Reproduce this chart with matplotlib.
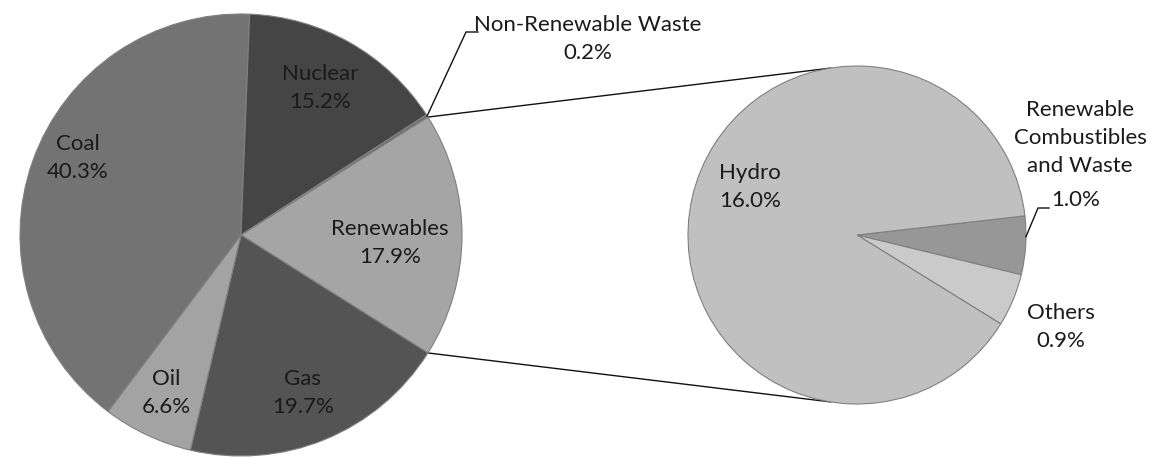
import numpy as np
import matplotlib
matplotlib.use("Agg")
import matplotlib.pyplot as plt

# Electricity generation by source (%), main pie, clockwise from the grouped slice
main_labels = ["Renewables", "Gas", "Oil", "Coal", "Nuclear", "Non-Renewable Waste"]
main_values = [17.9, 19.7, 6.6, 40.3, 15.2, 0.2]
main_colors = ["#a5a5a5", "#545454", "#a3a3a3", "#737373", "#454545", "#6e6e6e"]

# Breakdown of the renewables slice, clockwise
sub_labels = ["Renewable\nCombustibles\nand Waste", "Others", "Hydro"]
sub_values = [1.0, 0.9, 16.0]
sub_colors = ["#979797", "#cacaca", "#c0c0c0"]

W, H = 1151, 457
fig = plt.figure(figsize=(W / 100, H / 100), dpi=100)
ax = fig.add_axes([0, 0, 1, 1])

plt.rcParams["font.family"] = ["Lato", "DejaVu Sans"]
FS = 16
LS = 1.5
TXT = "#1a1a1a"
EDGE = "#808080"

c1, r1 = (241, 222), 221
c2, r2 = (857, 222), 169

total = sum(main_values)
start1 = 0.5 * main_values[0] / total * 360
w1, _ = ax.pie(main_values, colors=main_colors, startangle=start1, counterclock=False,
               center=c1, radius=r1, frame=True,
               wedgeprops=dict(edgecolor=EDGE, linewidth=0.8))
w2, _ = ax.pie(sub_values, colors=sub_colors, startangle=6.5, counterclock=False,
               center=c2, radius=r2, frame=True,
               wedgeprops=dict(edgecolor=EDGE, linewidth=0.8))
ax.set_xlim(0, W)
ax.set_ylim(0, H)
ax.set_aspect("equal")
ax.axis("off")


def pt(c, r, ang):
    a = np.deg2rad(ang)
    return c[0] + r * np.cos(a), c[1] + r * np.sin(a)


# Lines joining the grouped slice to the breakdown pie
ren = w1[0]
p_top = pt(c1, r1, ren.theta2)
p_bot = pt(c1, r1, ren.theta1)
q_top = pt(c2, r2, 99)
q_bot = pt(c2, r2, -99)
ax.plot([p_top[0], q_top[0]], [p_top[1], q_top[1]], color="#111111", lw=1.0, zorder=0)
ax.plot([p_bot[0], q_bot[0]], [p_bot[1], q_bot[1]], color="#111111", lw=1.0, zorder=0)

# Main pie labels
main_pos = {
    "Renewables": (390, 214),
    "Gas": (303, 64),
    "Oil": (166, 64),
    "Coal": (78, 299),
    "Nuclear": (320, 369),
}
for name, val in zip(main_labels, main_values):
    if name in main_pos:
        x, y = main_pos[name]
        ax.text(x, y, f"{name}\n{val:.1f}%", ha="center", va="center",
                fontsize=FS, color=TXT, linespacing=LS)

# Leader-line label for the thin slice
nrw = w1[5]
a = pt(c1, r1, 0.5 * (nrw.theta1 + nrw.theta2))
ax.plot([a[0], 466, 478], [a[1], 425, 425], color="#111111", lw=1.0)
ax.text(588, 418, f"{main_labels[5]}\n{main_values[5]:.1f}%", ha="center", va="center",
        fontsize=FS, color=TXT, linespacing=LS)

# Breakdown pie labels
ax.text(750, 270, f"{sub_labels[2]}\n{sub_values[2]:.1f}%", ha="center", va="center",
        fontsize=FS, color=TXT, linespacing=LS)
ax.text(1061, 130, f"{sub_labels[1]}\n{sub_values[1]:.1f}%", ha="center", va="center",
        fontsize=FS, color=TXT, linespacing=LS)
rc = w2[0]
b = pt(c2, r2, 0.5 * (rc.theta1 + rc.theta2) + 3)
ax.plot([b[0], 1038, 1049], [b[1], 249, 249], color="#111111", lw=1.0)
ax.text(1080, 319, sub_labels[0], ha="center", va="center",
        fontsize=FS, color=TXT, linespacing=LS)
ax.text(1076, 257, f"{sub_values[0]:.1f}%", ha="center", va="center",
        fontsize=FS, color=TXT)

fig.savefig("out.png", dpi=100)
